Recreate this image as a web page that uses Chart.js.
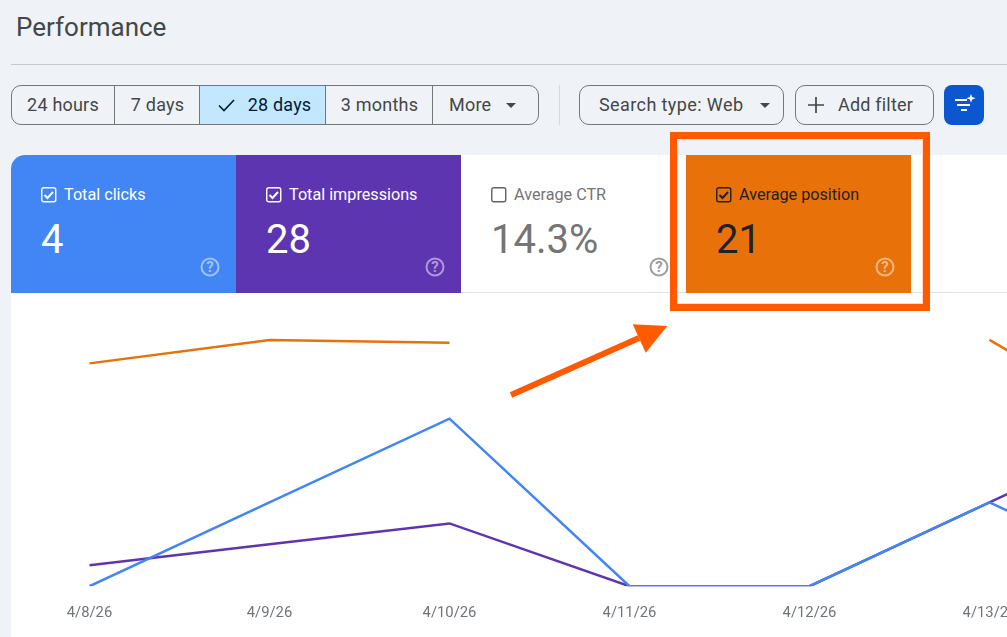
<!DOCTYPE html>
<html>
<head>
<meta charset="utf-8">
<script src="https://cdn.jsdelivr.net/npm/chart.js@4"></script>
<style>
html, body { margin:0; padding:0; width:1007px; height:637px; overflow:hidden; background:#eff3f8; font-family:Roboto, sans-serif; color:#444746; }
.abs { position:absolute; }
h1 { position:absolute; left:16px; top:12px; margin:0; font-size:26px; font-weight:400; line-height:30px; color:#444746; }
.rule { position:absolute; left:11px; top:64px; width:996px; height:1px; background:#c7c9cb; }
.group { position:absolute; left:11px; top:85px; width:526px; height:38px; border:1px solid #747775; border-radius:10px; display:flex; overflow:hidden; }
.group div { height:38px; line-height:38px; font-size:18px; letter-spacing:.2px; text-align:center; border-right:1px solid #747775; box-sizing:content-box; }
.group div:last-child { border-right:none; }
.group .on { background:#c2e7ff; color:#001d35; }
.sep { position:absolute; left:559px; top:85px; width:1px; height:40px; background:#d5d8dc; }
.btn { position:absolute; top:85px; height:38px; line-height:38px; border:1px solid #747775; border-radius:10px; font-size:18px; letter-spacing:.2px; }
.tri { position:absolute; width:0; height:0; border-left:5px solid transparent; border-right:5px solid transparent; border-top:5px solid #444746; }
.panel { position:absolute; left:11px; top:155px; width:1100px; height:482px; background:#fff; border-top-left-radius:14px; }
.card { position:absolute; top:155px; height:138px; }
.card .lbl { position:absolute; left:53px; top:30px; font-size:16.2px; line-height:20px; white-space:nowrap; }
.card .val { position:absolute; left:30px; top:61px; font-size:40px; line-height:48px; }
.card svg { position:absolute; }
#chartBox { position:absolute; left:0; top:293px; width:1260px; height:344px; }
</style>
</head>
<body>
<h1>Performance</h1>
<div class="rule"></div>
<div class="group">
  <div style="width:102px">24 hours</div>
  <div style="width:84px;text-indent:1px">7 days</div>
  <div class="on" style="width:125px;text-indent:3px"><svg width="20" height="14" viewBox="0 0 20 14" style="vertical-align:-1px;margin-right:11px"><path d="M2 7.5 L7 12.5 L17 2" fill="none" stroke="#001d35" stroke-width="1.6"/></svg>28 days</div>
  <div style="width:106px;text-indent:1px">3 months</div>
  <div style="width:105px;text-align:left;text-indent:16px">More</div>
</div>
<div class="tri" style="left:506px;top:103px"></div>
<div class="sep"></div>
<div class="btn" style="left:579px;width:203px;text-indent:19px;letter-spacing:.4px">Search type: Web</div>
<div class="tri" style="left:760px;top:103px"></div>
<div class="btn" style="left:795px;width:137px;text-indent:42px">Add filter</div>
<svg class="abs" style="left:807px;top:96px" width="18" height="18"><path d="M1 9H17M9 1V17" stroke="#444746" stroke-width="1.7" fill="none"/></svg>
<div class="abs" style="left:944px;top:85px;width:40px;height:40px;border-radius:8px;background:#0b57d0"></div>
<svg class="abs" style="left:954px;top:94px" width="24" height="22"><path d="M1 6H13M3 11H16M7 16H13" stroke="#fff" stroke-width="2" fill="none"/><path d="M17 0 L18.2 3.1 L21.5 4.3 L18.2 5.5 L17 8.6 L15.8 5.5 L12.5 4.3 L15.8 3.1Z" fill="#fff"/></svg>

<div class="panel"></div>
<div class="abs" style="left:461px;top:292px;width:546px;height:1px;background:#e0e0e0"></div>

<div class="card" style="left:11px;width:225px;background:#4285f4;color:#fff;border-top-left-radius:14px">
  <svg style="left:30px;top:32px" width="16" height="16"><rect x=".75" y=".75" width="14" height="14" rx="2" fill="none" stroke="#fff" stroke-width="1.4"/><path d="M3.5 8 L6.5 11 L12 5" fill="none" stroke="#fff" stroke-width="2"/></svg>
  <div class="lbl">Total clicks</div><div class="val">4</div>
  <svg style="left:189px;top:102px" width="20" height="20"><circle cx="10" cy="10" r="8.5" fill="none" stroke="#fff" stroke-opacity=".5" stroke-width="2"/><text x="10" y="15.2" font-size="15" font-weight="700" text-anchor="middle" fill="#fff" fill-opacity=".5">?</text></svg>
</div>
<div class="card" style="left:236px;width:225px;background:#5e35b1;color:#fff">
  <svg style="left:30px;top:32px" width="16" height="16"><rect x=".75" y=".75" width="14" height="14" rx="2" fill="none" stroke="#fff" stroke-width="1.4"/><path d="M3.5 8 L6.5 11 L12 5" fill="none" stroke="#fff" stroke-width="2"/></svg>
  <div class="lbl">Total impressions</div><div class="val">28</div>
  <svg style="left:189px;top:102px" width="20" height="20"><circle cx="10" cy="10" r="8.5" fill="none" stroke="#fff" stroke-opacity=".5" stroke-width="2"/><text x="10" y="15.2" font-size="15" font-weight="700" text-anchor="middle" fill="#fff" fill-opacity=".5">?</text></svg>
</div>
<div class="card" style="left:461px;width:225px;color:#757575">
  <svg style="left:30px;top:32px" width="16" height="16"><rect x=".75" y=".75" width="14" height="14" rx="2" fill="none" stroke="#5f6368" stroke-width="1.4"/></svg>
  <div class="lbl">Average CTR</div><div class="val">14.3%</div>
  <svg style="left:188px;top:102px" width="20" height="20"><circle cx="10" cy="10" r="8.5" fill="none" stroke="#9e9e9e" stroke-width="2"/><text x="10" y="15.2" font-size="15" font-weight="700" text-anchor="middle" fill="#9e9e9e">?</text></svg>
</div>
<div class="card" style="left:686px;width:225px;background:#e8710a;color:#202124">
  <svg style="left:30px;top:32px" width="16" height="16"><rect x=".75" y=".75" width="14" height="14" rx="2" fill="none" stroke="#202124" stroke-width="1.4"/><path d="M3.5 8 L6.5 11 L12 5" fill="none" stroke="#202124" stroke-width="2"/></svg>
  <div class="lbl">Average position</div><div class="val">21</div>
  <svg style="left:189px;top:102px" width="20" height="20"><circle cx="10" cy="10" r="8.5" fill="none" stroke="#fff" stroke-opacity=".5" stroke-width="2"/><text x="10" y="15.2" font-size="15" font-weight="700" text-anchor="middle" fill="#fff" fill-opacity=".5">?</text></svg>
</div>
<div class="abs" style="left:670px;top:132px;width:246px;height:165px;border:7px solid #ff5a00;box-shadow:inset 0 0 0 1px #ffd9c2"></div>

<div id="chartBox"><canvas id="myChart" width="1260" height="344"></canvas></div>

<svg class="abs" style="left:500px;top:315px" width="180" height="95"><path d="M11 80 L139 23" stroke="#ff5a00" stroke-width="6" fill="none"/><path d="M167.3 11 L132.7 9.3 L145.7 37.7Z" fill="#ff5a00"/></svg>

<script>
const dates = ['4/8/26','4/9/26','4/10/26','4/11/26','4/12/26','4/13/26','4/14/26'];
const clicks = [0,1,2,0,0,1,0];
const impressions = [1,2,3,0,0,4,8];
const position = [24,16,17,null,null,16,52];

const ctx = document.getElementById('myChart').getContext('2d');
let myChart = new Chart(ctx, {
    type : 'line',
    data: {
        labels: dates,
        datasets:[
            { label:'Total clicks', data:clicks, yAxisID:'yClicks', borderColor:'#4285f4' },
            { label:'Total impressions', data:impressions, yAxisID:'yImpressions', borderColor:'#5e35b1' },
            { label:'Average position', data:position, yAxisID:'yPosition', borderColor:'#e8710a' }
        ]
    },
    options: {
        responsive:false,
        animation:false,
        layout:{ padding:{ left:89.5, right:90.5, top:0, bottom:5 } },
        elements:{
            point:{ radius:0 },
            line:{ borderWidth:2.5, tension:0, borderCapStyle:'butt' }
        },
        plugins:{ legend:{display:false}, tooltip:{enabled:false} },
        scales:{
            x:{
                offset:false,
                grid:{display:false},
                border:{display:false},
                ticks:{ color:'#70757a', font:{family:'Roboto',size:14.8}, maxRotation:0, autoSkip:false, padding:10 }
            },
            yClicks:{ display:false, min:0, max:3.5 },
            yImpressions:{ display:false, min:0, max:14 },
            yPosition:{ display:false, min:0, max:100, reverse:true }
        }
    }
});
</script>
</body>
</html>
